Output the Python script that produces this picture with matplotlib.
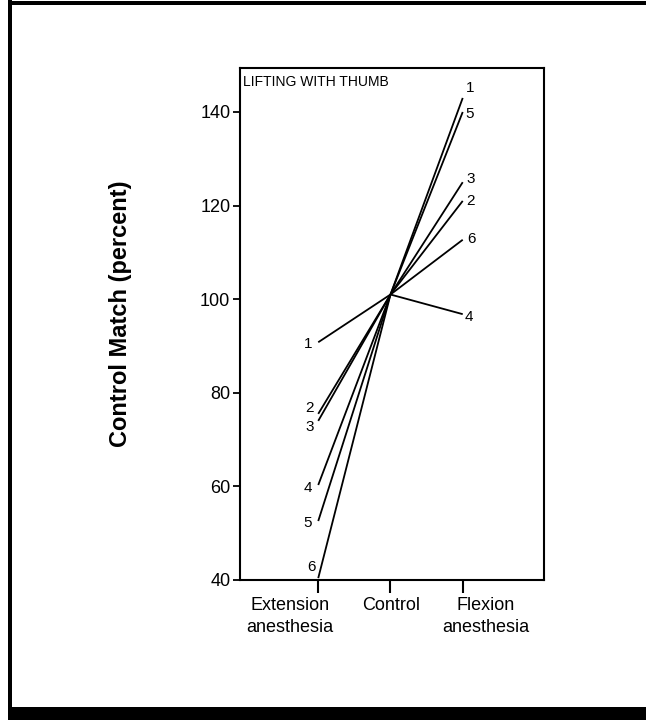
import matplotlib

matplotlib.use("Agg")
import matplotlib.pyplot as plt
import matplotlib.transforms as mtransforms
from matplotlib.patches import Rectangle

plt.rcParams["font.family"] = ["Liberation Sans", "DejaVu Sans"]

# Conditions on the x axis
conditions = ["Extension\nanesthesia", "Control", "Flexion\nanesthesia"]
subjects = ["1", "2", "3", "4", "5", "6"]
extension = [90.8, 75.5, 74.0, 60.3, 52.6, 40.4]
control = [101, 101, 101, 101, 101, 101]
flexion = [143, 121, 125, 96.8, 140, 112.7]

# label offsets in pixels (dx, dy) from line ends
ext_off = [(-10, -2), (-9, 6), (-9, -6), (-10, -3), (-11, -2), (-7, 11)]
flex_off = [(7, 10), (8, 0), (8, 3), (6, -3), (7, -2), (9, 1)]
# horizontal shift of the category labels away from their ticks (pixels)
label_shift = [-28, 1, 23]

fig = plt.figure(figsize=(6.46, 7.2), dpi=100)
ax = fig.add_axes([240 / 646, 1 - 580 / 720, 304 / 646, 512 / 720])

x = range(len(conditions))
for i, s in enumerate(subjects):
    ax.plot(x, [extension[i], control[i], flexion[i]], color="black", lw=1.3,
            solid_capstyle="butt")
    ax.annotate(s, (0, extension[i]), xytext=ext_off[i], textcoords="offset pixels",
                ha="center", va="center", fontsize=11)
    ax.annotate(s, (2, flexion[i]), xytext=flex_off[i], textcoords="offset pixels",
                ha="center", va="center", fontsize=11)

ax.set_xlim(-1.083, 3.125)
ax.set_ylim(40, 149.4)
ax.set_yticks([40, 60, 80, 100, 120, 140])
ax.set_xticks(list(x))
ax.set_xticklabels(conditions, fontsize=13, linespacing=1.38)
ax.tick_params(axis="y", direction="out", length=5, width=1.3, labelsize=13, pad=2)
ax.tick_params(axis="x", direction="out", length=9, width=1.5, pad=3)
for lbl, dx in zip(ax.get_xticklabels(), label_shift):
    lbl.set_transform(lbl.get_transform()
                      + mtransforms.ScaledTranslation(dx / 100, 0, fig.dpi_scale_trans))
for sp in ax.spines.values():
    sp.set_linewidth(1.5)

ax.text(0.01, 0.987, "LIFTING WITH THUMB", transform=ax.transAxes,
        ha="left", va="top", fontsize=10)

fig.text(120 / 646, 1 - 314 / 720, "Control Match (percent)", rotation=90,
         ha="center", va="center", fontsize=17, fontweight="bold")

# page frame
fig.add_artist(Rectangle((8 / 646, 0), 4 / 646, 1, transform=fig.transFigure,
                         color="black", lw=0))
fig.add_artist(Rectangle((8 / 646, 1 - 5 / 720), 1, 4 / 720, transform=fig.transFigure,
                         color="black", lw=0))
fig.add_artist(Rectangle((8 / 646, 0), 1, 13 / 720, transform=fig.transFigure,
                         color="black", lw=0))

fig.savefig("out.png", dpi=100)
